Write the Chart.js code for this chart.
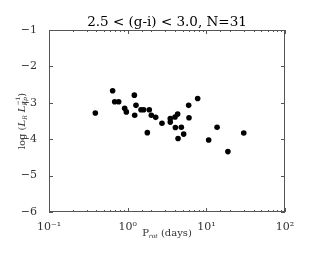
<!DOCTYPE html>
<html><head><meta charset="utf-8">
<script src="https://cdn.jsdelivr.net/npm/chart.js@4.4.0/dist/chart.umd.min.js"></script>
<style>html,body{margin:0;padding:0;background:#fff}#wrap{width:312px;height:257px}</style>
</head><body><div id="wrap"><canvas id="c" width="312" height="257"></canvas></div>
<script>
const titleText = "2.5 < (g-i) < 3.0, N=31";
const periods = [0.388,0.644,0.684,0.769,0.916,0.962,1.216,1.228,1.276,1.477,1.597,1.778,1.884,1.999,2.27,2.73,3.48,3.48,4.0,4.04,4.32,4.37,4.81,5.15,5.96,6.02,7.76,10.7,13.7,18.8,29.9];
const logRatio = [-3.28,-2.67,-2.97,-2.97,-3.15,-3.25,-2.79,-3.34,-3.07,-3.19,-3.19,-3.82,-3.19,-3.34,-3.40,-3.56,-3.43,-3.53,-3.39,-3.68,-3.31,-3.98,-3.67,-3.86,-3.07,-3.41,-2.88,-4.02,-3.67,-4.34,-3.83];
const xTickLabels = {"0.1":"10\u207B\u00B9","1":"10\u2070","10":"10\u00B9","100":"10\u00B2"};
const yTicks = [-1,-2,-3,-4,-5,-6];

const points = periods.map((p,i)=>({x:p,y:logRatio[i]}));
const serif = "'DejaVu Serif', 'Liberation Serif', serif";

const deco = {
  id:'deco',
  afterDraw(chart){
    const ctx = chart.ctx, a = chart.chartArea, xs = chart.scales.x, ys = chart.scales.y;
    ctx.save();
    ctx.strokeStyle = '#555'; ctx.lineWidth = 1;
    ctx.strokeRect(Math.round(a.left)+0.5, Math.round(a.top)+0.5, Math.round(a.right-a.left)-1, Math.round(a.bottom-a.top)-1);
    ctx.beginPath();
    ys.ticks.forEach(t=>{
      const y = Math.round(ys.getPixelForValue(t.value))+0.5;
      ctx.moveTo(a.left, y); ctx.lineTo(a.left+4, y);
      ctx.moveTo(a.right, y); ctx.lineTo(a.right-4, y);
    });
    xs.ticks.forEach(t=>{
      const x = Math.round(xs.getPixelForValue(t.value))+0.5;
      const major = Math.abs(Math.log10(t.value) - Math.round(Math.log10(t.value))) < 1e-6;
      const len = major ? 4 : 2;
      ctx.moveTo(x, a.bottom); ctx.lineTo(x, a.bottom-len);
      ctx.moveTo(x, a.top); ctx.lineTo(x, a.top+len);
    });
    ctx.stroke();
    // title
    ctx.fillStyle = '#000';
    ctx.font = "13.5px " + serif;
    ctx.textAlign = 'center'; ctx.textBaseline = 'alphabetic';
    ctx.fillText(titleText, (a.left+a.right)/2, 26);
    // x title: P_rot (days)
    ctx.fillStyle = '#333';
    ctx.font = "10px " + serif;
    const p = "P", sub = "rot", rest = " (days)";
    ctx.textAlign = 'left';
    const wP = ctx.measureText(p).width, wR = ctx.measureText(rest).width;
    ctx.font = "italic 6px " + serif;
    const wS = ctx.measureText(sub).width;
    let x0 = (a.left+a.right)/2 - (wP+wS+wR)/2; const yb = 236;
    ctx.font = "10px " + serif; ctx.fillText(p, x0, yb);
    ctx.font = "italic 6px " + serif; ctx.fillText(sub, x0+wP, yb+2);
    ctx.font = "10px " + serif; ctx.fillText(rest, x0+wP+wS, yb);
    // y title: log (L_R L_Kp^-1)
    ctx.translate(22, (a.top+a.bottom)/2);
    ctx.rotate(-Math.PI/2);
    const parts = [
      {t:"log (", f:"10px "+serif, dy:0},
      {t:"L", f:"italic 10px "+serif, dy:0},
      {t:"R", f:"italic 6px "+serif, dy:2},
      {t:" ", f:"10px "+serif, dy:0},
      {t:"L", f:"italic 10px "+serif, dy:0},
      {t:"Kp", f:"italic 6px "+serif, dy:2},
      {t:"\u22121", f:"6px "+serif, dy:-5},
      {t:")", f:"10px "+serif, dy:0}
    ];
    parts.forEach(q=>{ctx.font=q.f; q.w=ctx.measureText(q.t).width;});
    const kpW = parts[5].w;
    const tw = parts.reduce((s,q,i)=> s + (i===6 ? Math.max(0,q.w-kpW) : q.w), 0);
    let cx = -tw/2;
    parts.forEach((q,i)=>{
      ctx.font = q.f;
      if (i===6){ ctx.fillText(q.t, cx-kpW, 3+q.dy); cx += Math.max(0,q.w-kpW); }
      else { ctx.fillText(q.t, cx, 3+q.dy); cx += q.w; }
    });
    ctx.restore();
  }
};

new Chart(document.getElementById('c'), {
  type:'scatter',
  data:{datasets:[{data:points, backgroundColor:'#000', borderColor:'#000', pointRadius:2.8, pointBorderWidth:0, pointHoverRadius:2.8}]},
  options:{
    responsive:false, animation:false, devicePixelRatio:1,
    layout:{padding:{left:0,right:27,top:30,bottom:0}},
    plugins:{legend:{display:false}, title:{display:false}, tooltip:{enabled:false}},
    scales:{
      x:{type:'logarithmic', min:0.1, max:100,
        grid:{display:false}, border:{display:false},
        afterFit(s){ s.height = 45; },
        ticks:{autoSkip:false, maxRotation:0, padding:1, color:'#333', font:{family:serif, size:11},
          callback(v){ const k = String(+Number(v).toPrecision(6)); return xTickLabels[k] || ''; }}
      },
      y:{type:'linear', min:-6, max:-1,
        grid:{display:false}, border:{display:false},
        afterFit(s){ s.width = 49; },
        afterBuildTicks(s){ s.ticks = yTicks.map(v=>({value:v})); },
        ticks:{padding:4, color:'#333', font:{family:serif, size:11},
          callback(v){ return '\u2212' + Math.abs(v); }}
      }
    }
  },
  plugins:[deco]
});
</script></body></html>
